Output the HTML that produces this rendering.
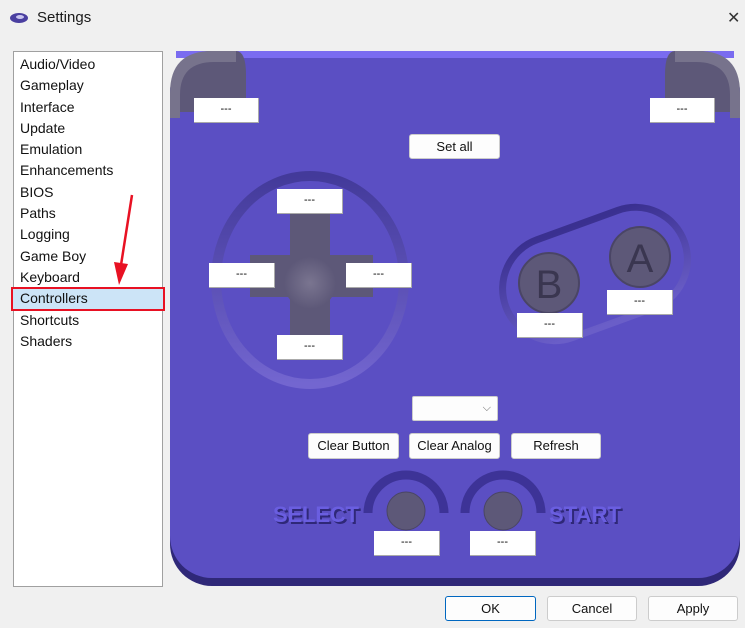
<!DOCTYPE html>
<html><head><meta charset="utf-8"><style>
body{margin:0;width:745px;height:628px;background:#f0f0f0;font-family:"Liberation Sans",sans-serif;overflow:hidden;position:relative}
.t{position:absolute;left:37px;top:9px;font-size:15px;color:#1a1a1a}
.x{position:absolute;left:727px;top:8px;font-size:16px;color:#333}
.side{position:absolute;left:13px;top:51px;width:148px;height:532px;padding-top:2px;background:#fff;border:1px solid #a0a0a0}
.side div{height:21.3px;line-height:21px;font-size:14px;padding-left:6px;color:#111}
.sel{background:#cce4f7;outline:2px solid #e81123;outline-offset:-1px;margin:0 -2px 0 -2px;padding-left:8px!important}
.b{position:absolute;background:#fdfdfd;border:1px solid #ccc;border-radius:3px;font-size:13px;text-align:center;color:#111;box-sizing:border-box}
.w{position:absolute;background:#fff;border-right:1px solid #aaa;border-bottom:1px solid #aaa;font-size:11px;text-align:center;box-sizing:border-box;line-height:22px}
</style></head><body>
<svg style="position:absolute;left:9px;top:11px" width="20" height="14"><ellipse cx="10" cy="7" rx="9" ry="5" fill="#4a3fa0"/><ellipse cx="11" cy="6" rx="4" ry="2" fill="#c8c4f0"/></svg>
<div class="t">Settings</div><div class="x">✕</div>
<div class="side">
<div>Audio/Video</div><div>Gameplay</div><div>Interface</div><div>Update</div><div>Emulation</div><div>Enhancements</div><div>BIOS</div><div>Paths</div><div>Logging</div><div>Game Boy</div><div>Keyboard</div><div class="sel">Controllers</div><div>Shortcuts</div><div>Shaders</div>
</div>
<svg style="position:absolute;left:0;top:0" width="745" height="628">
<line x1="132" y1="195" x2="121" y2="265" stroke="#e81123" stroke-width="2.5"/>
<polygon points="114,262 128,264 119,285" fill="#e81123"/>
<rect x="170" y="51" width="570" height="535" rx="42" fill="#2f2878"/>
<rect x="170" y="51" width="570" height="527" rx="42" fill="#5b4fc3"/>
<rect x="176" y="51" width="558" height="7" fill="#7a6cf0"/>
<path d="M212,51 H236 Q246,51 246,75 V100 Q246,112 230,112 H178 V90 Q178,51 212,51Z" fill="#5d5878"/>
<path d="M170,93 Q170,51 212,51 H236 V62 H214 Q180,62 180,95 V118 H170Z" fill="#77738c"/>
<path d="M698,51 H675 Q665,51 665,75 V100 Q665,112 680,112 H732 V90 Q732,51 698,51Z" fill="#5d5878"/>
<path d="M740,93 Q740,51 698,51 H675 V62 H696 Q730,62 730,95 V118 H740Z" fill="#77738c"/>
<defs><linearGradient id="rg" x1="0" y1="0" x2="0" y2="1"><stop offset="0" stop-color="#433a9a"/><stop offset="1" stop-color="#7366d0"/></linearGradient>
<linearGradient id="pg" x1="0" y1="0" x2="0" y2="1"><stop offset="0" stop-color="#3a3090"/><stop offset="1" stop-color="#6a5ec8"/></linearGradient>
<radialGradient id="cg"><stop offset="0" stop-color="#7a7590"/><stop offset="1" stop-color="#5d5878"/></radialGradient></defs>
<ellipse cx="310" cy="280" rx="94" ry="104" fill="none" stroke="url(#rg)" stroke-width="10"/>
<rect x="290" y="205" width="40" height="130" fill="#5d5878"/>
<rect x="250" y="255" width="123" height="42" fill="#5d5878"/>
<circle cx="310" cy="283" r="26" fill="url(#cg)"/>
<rect x="500" y="222" width="190" height="104" rx="52" fill="none" stroke="url(#pg)" stroke-width="7" transform="rotate(-20 595 274)"/>
<circle cx="549" cy="283" r="30" fill="#5d5878" stroke="#4a4565" stroke-width="2"/>
<circle cx="640" cy="257" r="30" fill="#5d5878" stroke="#4a4565" stroke-width="2"/>
<text x="549" y="298" font-size="40" text-anchor="middle" fill="#3a3650" font-family="Liberation Sans">B</text>
<text x="640" y="272" font-size="40" text-anchor="middle" fill="#3a3650" font-family="Liberation Sans">A</text>
<path d="M368,513 A38,38 0 0 1 444,513" fill="none" stroke="#3d3397" stroke-width="9"/>
<path d="M465,513 A38,38 0 0 1 541,513" fill="none" stroke="#3d3397" stroke-width="9"/>
<circle cx="406" cy="511" r="19" fill="#5d5878" stroke="#4a4565"/>
<circle cx="503" cy="511" r="19" fill="#5d5878" stroke="#4a4565"/>
<text x="275" y="524" font-size="22" font-weight="bold" fill="#2f2878" font-family="Liberation Sans" textLength="86">SELECT</text>
<text x="273" y="522" font-size="22" font-weight="bold" fill="#6a5ee0" font-family="Liberation Sans" textLength="86">SELECT</text>
<text x="551" y="524" font-size="22" font-weight="bold" fill="#2f2878" font-family="Liberation Sans" textLength="72">START</text>
<text x="549" y="522" font-size="22" font-weight="bold" fill="#6a5ee0" font-family="Liberation Sans" textLength="72">START</text>
</svg>
<div class="w" style="left:194px;top:98px;width:65px;height:25px">---</div>
<div class="w" style="left:650px;top:98px;width:65px;height:25px">---</div>
<div class="w" style="left:277px;top:189px;width:66px;height:25px">---</div>
<div class="w" style="left:209px;top:263px;width:66px;height:25px">---</div>
<div class="w" style="left:346px;top:263px;width:66px;height:25px">---</div>
<div class="w" style="left:277px;top:335px;width:66px;height:25px">---</div>
<div class="w" style="left:517px;top:313px;width:66px;height:25px">---</div>
<div class="w" style="left:607px;top:290px;width:66px;height:25px">---</div>
<div class="w" style="left:374px;top:531px;width:66px;height:25px">---</div>
<div class="w" style="left:470px;top:531px;width:66px;height:25px">---</div>
<div class="b" style="left:409px;top:134px;width:91px;height:25px;line-height:23px">Set all</div>
<div class="b" style="left:412px;top:396px;width:86px;height:25px;border-radius:2px;text-align:right;padding-right:6px;line-height:22px;font-size:11px;color:#666">⌵</div>
<div class="b" style="left:308px;top:433px;width:91px;height:26px;line-height:24px">Clear Button</div>
<div class="b" style="left:409px;top:433px;width:91px;height:26px;line-height:24px">Clear Analog</div>
<div class="b" style="left:511px;top:433px;width:90px;height:26px;line-height:24px">Refresh</div>
<div class="b" style="left:445px;top:596px;width:91px;height:25px;line-height:23px;border:1px solid #0067c0">OK</div>
<div class="b" style="left:547px;top:596px;width:90px;height:25px;line-height:23px">Cancel</div>
<div class="b" style="left:648px;top:596px;width:90px;height:25px;line-height:23px">Apply</div>
</body></html>
